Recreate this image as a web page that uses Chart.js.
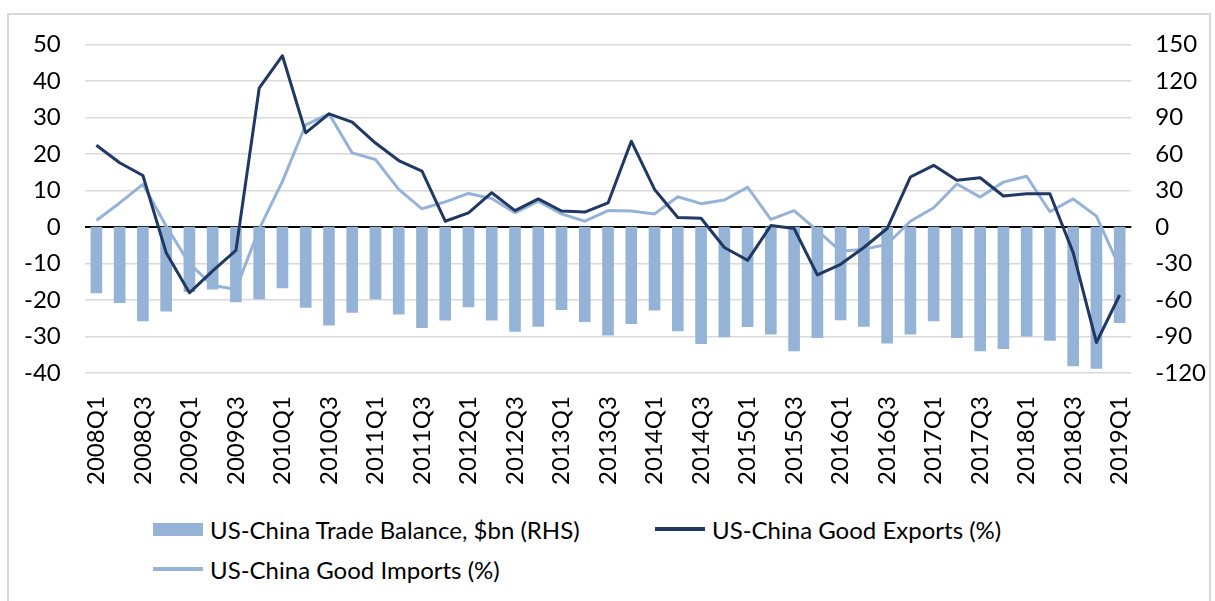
<!DOCTYPE html>
<html>
<head>
<meta charset="utf-8">
<script src="https://cdn.jsdelivr.net/npm/chart.js@4.4.0/dist/chart.umd.min.js"></script>
<style>
    html, body { margin: 0; padding: 0; background: #fff; }
    #frame {
        position: absolute; left: 7px; top: 13px;
        width: 1204px; height: 600px;
        border: 2px solid #d9d9d9; box-sizing: border-box;
    }
    #chartBox { position: absolute; left: -25px; top: -9px; width: 1250px; height: 494px; }
    #legend {
        position: absolute; left: 144px; top: 500px;
        font-family: Lato, 'Open Sans', sans-serif; font-size: 24px; color: #000;
        display: grid; grid-template-columns: 502px auto; row-gap: 12px;
    }
    .item { display: flex; align-items: center; height: 28px; }
    .swatch { width: 50px; margin-right: 7px; }
</style>
</head>
<body>
<div id="frame">
    <div id="chartBox"><canvas id="tradeChart"></canvas></div>
    <div id="legend"></div>
</div>
<script>
// Quarter labels
const quarters = [
    '2008Q1', '2008Q2', '2008Q3', '2008Q4', '2009Q1', '2009Q2', '2009Q3', '2009Q4',
    '2010Q1', '2010Q2', '2010Q3', '2010Q4', '2011Q1', '2011Q2', '2011Q3', '2011Q4',
    '2012Q1', '2012Q2', '2012Q3', '2012Q4', '2013Q1', '2013Q2', '2013Q3', '2013Q4',
    '2014Q1', '2014Q2', '2014Q3', '2014Q4', '2015Q1', '2015Q2', '2015Q3', '2015Q4',
    '2016Q1', '2016Q2', '2016Q3', '2016Q4', '2017Q1', '2017Q2', '2017Q3', '2017Q4',
    '2018Q1', '2018Q2', '2018Q3', '2018Q4', '2019Q1'
];

// Trade balance, $bn (right axis)
const tradeBalance = [
    -54, -62, -77, -69, -53, -51, -61.5, -59,
    -50, -66, -80.6, -70, -59, -71.6, -82.6, -76.5,
    -65.6, -76.5, -85.8, -81.5, -67.8, -77.6, -88.8, -79.3,
    -68.3, -85.3, -95.7, -90.2, -81.7, -88, -101.7, -90.8,
    -76.3, -81.5, -95.4, -88, -77, -90.8, -101.7, -99.8,
    -89.7, -93, -114, -116, -78.5
];

// Good exports, % (left axis)
const goodExports = [
    22.4, 17.6, 14.1, -7.0, -18, -12, -6.4, 38,
    46.9, 25.8, 31, 28.7, 23, 18.2, 15.3, 1.6,
    3.9, 9.4, 4.5, 7.7, 4.4, 4.1, 6.6, 23.5,
    10.3, 2.6, 2.4, -5.6, -9.1, 0.4, -0.4, -13.1,
    -10.2, -5.6, -0.4, 13.7, 16.9, 12.8, 13.5, 8.5,
    9.1, 9.1, -7, -31.6, -18.6
];

// Good imports, % (left axis)
const goodImports = [
    1.8, 6.6, 11.7, 0.3, -10, -16, -17, -0.5,
    12.5, 28, 31, 20.3, 18.5, 10.3, 5.0, 6.9,
    9.2, 7.8, 3.9, 7.1, 3.6, 1.6, 4.5, 4.4,
    3.6, 8.3, 6.4, 7.4, 10.9, 2.1, 4.5, -1,
    -6.6, -6.1, -4.7, 1.6, 5.3, 11.8, 8.2, 12.3,
    13.9, 4.2, 7.7, 3, -11.1
];

const lightBlue = '#95b3d7';
const navy = '#1f3864';
const tickFont = { family: "Lato, 'Open Sans', sans-serif", size: 24 };

document.addEventListener('DOMContentLoaded', function() {
    const ctx = document.getElementById('tradeChart').getContext('2d');

    const chart = new Chart(ctx, {
        type: 'bar',
        data: {
            labels: quarters,
            datasets: [{
                type: 'bar',
                label: 'US-China Trade Balance, $bn (RHS)',
                data: tradeBalance,
                yAxisID: 'y1',
                backgroundColor: lightBlue,
                barThickness: 11,
                order: 3
            }, {
                type: 'line',
                label: 'US-China Good Exports (%)',
                data: goodExports,
                yAxisID: 'y',
                borderColor: navy,
                borderWidth: 3,
                borderJoinStyle: 'round',
                pointRadius: 0,
                tension: 0,
                order: 1
            }, {
                type: 'line',
                label: 'US-China Good Imports (%)',
                data: goodImports,
                yAxisID: 'y',
                borderColor: lightBlue,
                borderWidth: 3,
                borderJoinStyle: 'round',
                pointRadius: 0,
                tension: 0,
                order: 2
            }]
        },
        options: {
            responsive: true,
            maintainAspectRatio: false,
            animation: false,
            layout: {
                padding: { left: 16, right: 4, top: 18, bottom: 0 }
            },
            plugins: {
                legend: { display: false },
                tooltip: { enabled: false }
            },
            scales: {
                x: {
                    grid: { display: false },
                    border: { display: false },
                    ticks: {
                        autoSkip: false,
                        minRotation: 90,
                        maxRotation: 90,
                        padding: 15,
                        color: '#000',
                        font: tickFont,
                        callback: function(value, index) {
                            return index % 2 === 0 ? this.getLabelForValue(value) : '';
                        }
                    }
                },
                y: {
                    position: 'left',
                    min: -40,
                    max: 50,
                    ticks: { stepSize: 10, padding: 24, color: '#000', font: tickFont },
                    border: { display: false },
                    grid: {
                        drawTicks: false,
                        lineWidth: function(c) { return c.tick.value === 0 ? 2 : 1.5; },
                        color: function(c) { return c.tick.value === 0 ? '#000' : '#d9d9d9'; }
                    }
                },
                y1: {
                    position: 'right',
                    min: -120,
                    max: 150,
                    ticks: { stepSize: 30, padding: 24, color: '#000', font: tickFont },
                    border: { display: false },
                    grid: { display: false, drawTicks: false }
                }
            }
        }
    });

    // HTML legend built from the chart datasets
    const legend = document.getElementById('legend');
    chart.data.datasets.forEach(function(ds) {
        const item = document.createElement('div');
        item.className = 'item';
        const sw = document.createElement('span');
        sw.className = 'swatch';
        sw.style.background = ds.type === 'bar' ? ds.backgroundColor : ds.borderColor;
        sw.style.height = ds.type === 'bar' ? '13px' : '4px';
        const txt = document.createElement('span');
        txt.textContent = ds.label;
        item.appendChild(sw);
        item.appendChild(txt);
        legend.appendChild(item);
    });
});
</script>
</body>
</html>
